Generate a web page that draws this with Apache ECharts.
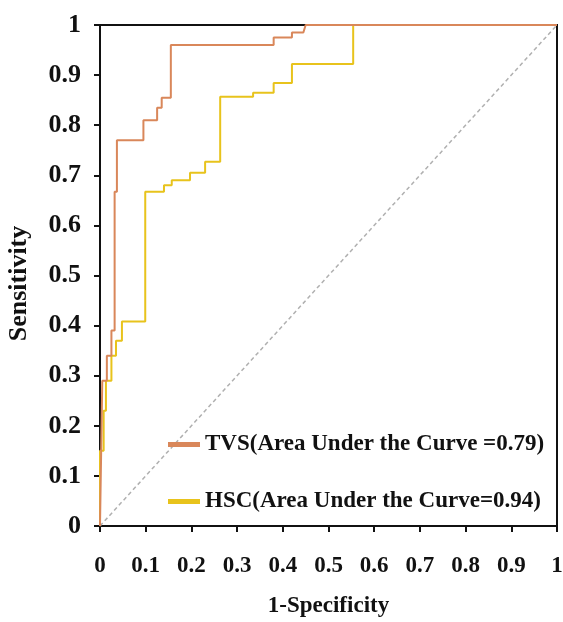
<!DOCTYPE html>
<html>
<head>
<meta charset="utf-8">
<script src="https://cdn.jsdelivr.net/npm/echarts@6/dist/echarts.min.js"></script>
<style>
  html, body { margin: 0; padding: 0; background: #fff; }
  #chart { width: 563px; height: 622px; }
</style>
</head>
<body>
<div id="chart"></div>
<script>
// ROC curves (corner points of the step curves)
const tvsX = [0, 0.005, 0.015, 0.015, 0.025, 0.025, 0.032, 0.032, 0.037, 0.037, 0.095, 0.095, 0.125, 0.125, 0.135, 0.135, 0.155, 0.155, 0.38, 0.38, 0.42, 0.42, 0.445, 0.45, 1]
const tvsY = [0, 0.29, 0.29, 0.34, 0.34, 0.39, 0.39, 0.667, 0.667, 0.77, 0.77, 0.81, 0.81, 0.835, 0.835, 0.855, 0.855, 0.96, 0.96, 0.975, 0.975, 0.985, 0.985, 1, 1]
const hscX = [0, 0, 0.008, 0.008, 0.013, 0.013, 0.025, 0.025, 0.035, 0.035, 0.048, 0.048, 0.099, 0.099, 0.14, 0.14, 0.157, 0.157, 0.197, 0.197, 0.23, 0.23, 0.263, 0.263, 0.335, 0.335, 0.38, 0.38, 0.42, 0.42, 0.554, 0.554, 1]
const hscY = [0, 0.15, 0.15, 0.23, 0.23, 0.29, 0.29, 0.34, 0.34, 0.37, 0.37, 0.408, 0.408, 0.667, 0.667, 0.68, 0.68, 0.69, 0.69, 0.705, 0.705, 0.727, 0.727, 0.857, 0.857, 0.865, 0.865, 0.884, 0.884, 0.922, 0.922, 1, 1]
const diagX = [0, 1]
const diagY = [0, 1]
const tvsName = 'TVS(Area Under the Curve =0.79)'
const hscName = 'HSC(Area Under the Curve=0.94)'

const pairs = (xs, ys) => xs.map((x, i) => [x, ys[i]])
const serif = '"Liberation Serif", "Times New Roman", serif'
const tvsColor = '#d9875a'
const hscColor = '#e8c31c'

const chart = echarts.init(document.getElementById('chart'))
const option = {
  animation: false,
  grid: {
    left: 100,
    right: 6,
    top: 25,
    bottom: 96,
    outerBoundsMode: 'none',
    show: true,
    borderColor: '#111',
    borderWidth: 2,
  },
  legend: {
    orient: 'vertical',
    left: 163,
    top: 428,
    itemWidth: 32,
    itemHeight: 5,
    itemGap: 34,
    icon: 'rect',
    data: [tvsName, hscName],
    textStyle: {
      fontFamily: serif,
      fontWeight: 'bold',
      fontSize: 23,
      color: '#111',
    },
  },
  xAxis: {
    type: 'value',
    min: 0,
    max: 1,
    interval: 0.1,
    name: '1-Specificity',
    nameLocation: 'middle',
    nameGap: 69,
    nameTextStyle: { fontFamily: serif, fontWeight: 'bold', fontSize: 23, color: '#111' },
    splitLine: { show: false },
    axisLine: { lineStyle: { color: '#111', width: 2 } },
    axisTick: { inside: false, length: 6, lineStyle: { color: '#111', width: 2 } },
    axisLabel: {
      margin: 29,
      fontFamily: serif,
      fontWeight: 'bold',
      fontSize: 23,
      color: '#111',
      formatter: (v) => String(+v.toFixed(1)),
    },
  },
  yAxis: {
    type: 'value',
    min: 0,
    max: 1,
    interval: 0.1,
    name: 'Sensitivity',
    nameLocation: 'middle',
    nameRotate: 90,
    nameGap: 68,
    nameTextStyle: { fontFamily: serif, fontWeight: 'bold', fontSize: 26, color: '#111', padding: [0, 16, 0, 0] },
    splitLine: { show: false },
    axisLine: { lineStyle: { color: '#111', width: 2 } },
    axisTick: { inside: false, length: 6, lineStyle: { color: '#111', width: 2 } },
    axisLabel: {
      margin: 19,
      fontFamily: serif,
      fontWeight: 'bold',
      fontSize: 26,
      color: '#111',
      formatter: (v) => String(+v.toFixed(1)),
    },
  },
  series: [
    {
      name: 'diag',
      type: 'line',
      data: pairs(diagX, diagY),
      showSymbol: false,
      itemStyle: { color: '#b0b0b0' },
      lineStyle: { color: '#b0b0b0', width: 1.5, type: [4, 3] },
      z: 1,
    },
    {
      name: tvsName,
      type: 'line',
      data: pairs(tvsX, tvsY),
      showSymbol: false,
      itemStyle: { color: tvsColor },
      lineStyle: { color: tvsColor, width: 2 },
      z: 3,
    },
    {
      name: hscName,
      type: 'line',
      data: pairs(hscX, hscY),
      showSymbol: false,
      itemStyle: { color: hscColor },
      lineStyle: { color: hscColor, width: 2 },
      z: 2,
    },
  ],
}
chart.setOption(option)
</script>
</body>
</html>
